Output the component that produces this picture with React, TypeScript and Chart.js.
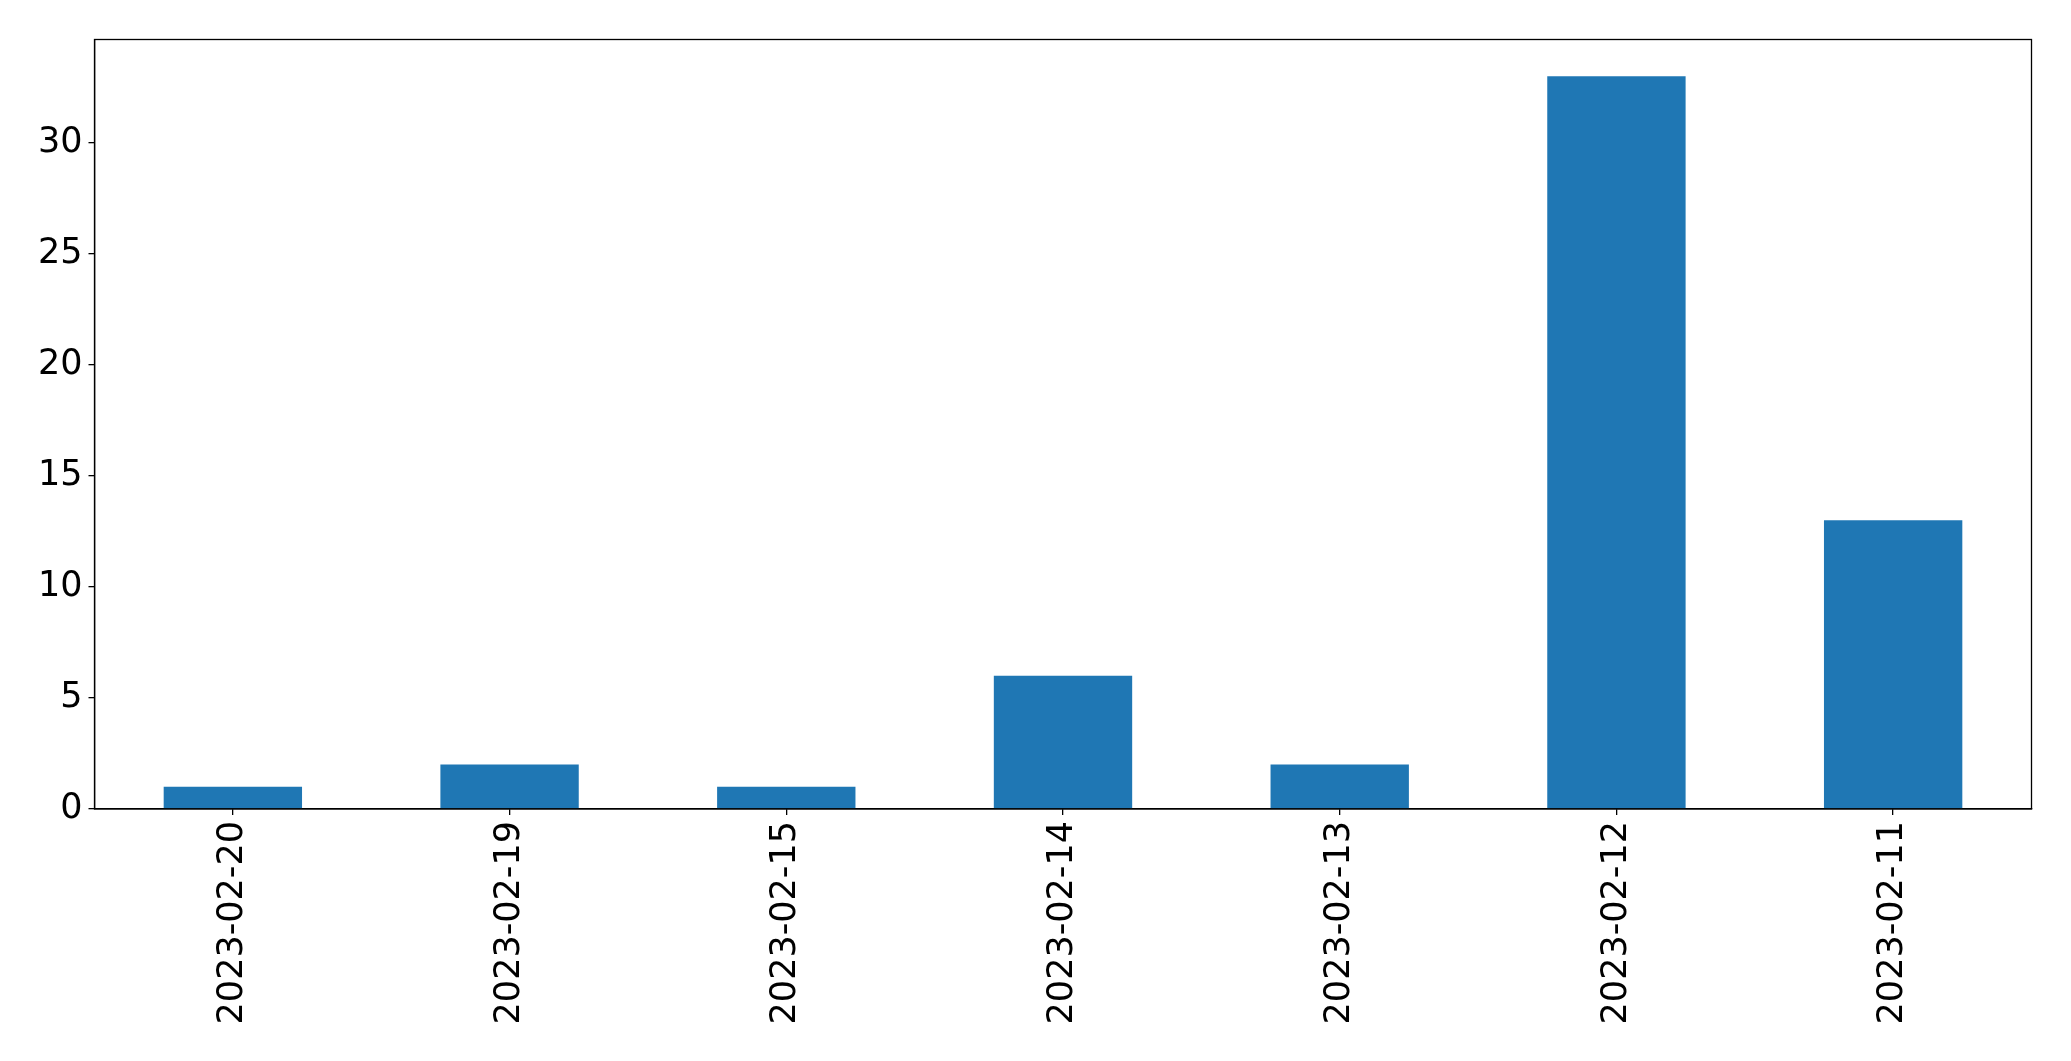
import React, { useEffect, useRef } from "react";
import { Chart, registerables } from "chart.js";

Chart.register(...registerables);

const categories = ["2023-02-20", "2023-02-19", "2023-02-15", "2023-02-14", "2023-02-13", "2023-02-12", "2023-02-11"];
const values = [1, 2, 1, 6, 2, 33, 13];
const yMax = 34.65;
const yStep = 5;

const W = 2071;
const H = 1061;
const LEFT = 94.5;
const TOP = 39.5;
const RIGHT = 2031.5;
const BOTTOM = 809;

const frame = {
  id: "frame",
  afterDraw(chart: any) {
    const { ctx, chartArea } = chart;
    ctx.save();
    ctx.strokeStyle = "#000";
    ctx.lineWidth = 1.3;
    ctx.strokeRect(chartArea.left, chartArea.top, chartArea.right - chartArea.left, chartArea.bottom - chartArea.top);
    ctx.restore();
  },
};

export default function App() {
  const ref = useRef<HTMLCanvasElement>(null);
  useEffect(() => {
    if (!ref.current) return;
    const chart = new Chart(ref.current, {
      type: "bar",
      data: {
        labels: categories,
        datasets: [
          {
            data: values,
            backgroundColor: "#1f77b4",
            borderWidth: 0,
            categoryPercentage: 1,
            barPercentage: 0.5,
          },
        ],
      },
      options: {
        responsive: false,
        animation: false,
        devicePixelRatio: 1,
        layout: { padding: { top: TOP, right: W - RIGHT, left: 0, bottom: 0 } },
        plugins: { legend: { display: false }, tooltip: { enabled: false } },
        scales: {
          x: {
            offset: true,
            grid: { display: true, drawOnChartArea: false, drawTicks: true, tickLength: 6, color: "#000", offset: false, lineWidth: 1.3 },
            border: { display: true, color: "#000", width: 1.3 },
            ticks: {
              color: "#000",
              font: { family: "DejaVu Sans", size: 35 },
              maxRotation: 90,
              minRotation: 90,
              padding: 6,
              autoSkip: false,
            },
            afterFit: (s: any) => {
              s.height = H - BOTTOM;
            },
          },
          y: {
            min: 0,
            max: yMax,
            grid: { display: true, drawOnChartArea: false, drawTicks: true, tickLength: 6, color: "#000", lineWidth: 1.3 },
            border: { display: true, color: "#000", width: 1.3 },
            ticks: {
              stepSize: yStep,
              includeBounds: false,
              color: "#000",
              font: { family: "DejaVu Sans", size: 35 },
              padding: 6,
            },
            afterFit: (s: any) => {
              s.width = LEFT;
            },
          },
        },
      },
      plugins: [frame],
    });
    return () => chart.destroy();
  }, []);
  return (
    <div style={{ position: "fixed", left: 0, top: 0, width: W, height: H, background: "#fff" }}>
      <canvas ref={ref} width={W} height={H} style={{ width: W, height: H, display: "block" }} />
    </div>
  );
}
